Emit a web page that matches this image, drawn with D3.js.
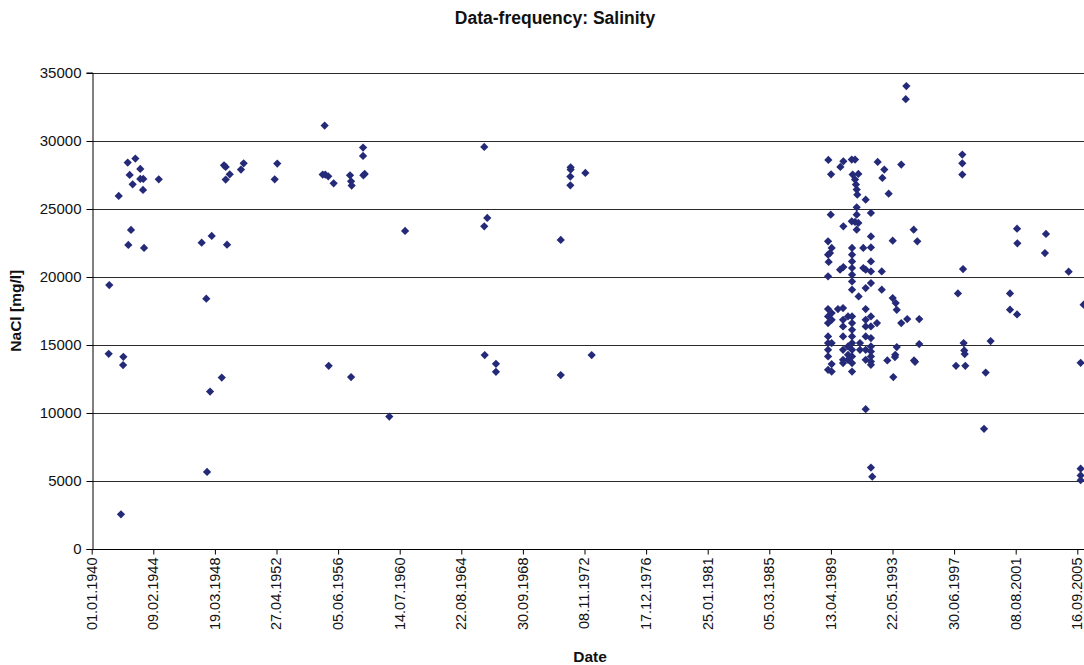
<!DOCTYPE html>
<html>
<head>
<meta charset="utf-8">
<script src="https://cdn.jsdelivr.net/npm/d3@7"></script>
<style>
  html, body { margin: 0; padding: 0; background: #fff; }
  svg { display: block; font-family: "Liberation Sans", Arial, sans-serif; }
</style>
</head>
<body>
<svg id="chart" width="1084" height="665"></svg>
<script>
// Salinity samples, sampling date given as decimal year
const earlyYears = [
  1941.13, 1941.17, 1941.80, 1941.95, 1942.11, 1942.09, 1942.40, 1942.44, 1942.53, 1942.62,
  1942.73, 1942.91, 1943.24, 1943.24, 1943.44, 1943.42, 1943.49, 1944.47,
  1947.33, 1947.64, 1947.69, 1947.89, 1948.00, 1948.67, 1948.82, 1948.93, 1948.93, 1949.02,
  1949.20, 1949.95, 1950.13, 1952.20, 1952.37,
  1955.40, 1955.53, 1955.57, 1955.77, 1955.80, 1956.13, 1957.22, 1957.29, 1957.33, 1957.29,
  1958.09, 1958.09, 1958.11, 1958.20, 1959.84, 1960.89,
  1966.17, 1966.37, 1966.17, 1966.20, 1966.95, 1966.95,
  1971.27, 1971.27, 1971.93, 1971.93, 1971.91, 1971.91, 1972.91, 1973.33
];
const earlyNaCl = [
  14338, 19390, 25934, 2551, 14118, 13507, 28382, 22331, 27478, 23434,
  26787, 28676, 27919, 27184, 27184, 26375, 22110, 27155,
  22500, 18382, 5662, 11566, 22993, 12596, 28184, 28066, 27132, 22353,
  27522, 27868, 28331, 27155, 28309,
  27500, 31103, 27500, 27375, 13456, 26860, 27449, 27007, 26691, 12625,
  29485, 28873, 27449, 27551, 9730, 23360,
  29537, 24316, 23699, 14243, 13603, 13015,
  22699, 12772, 28037, 27868, 27353, 26713, 27625, 14243
];

const lateYears = [
  1994.31, 1994.27,
  1989.11, 1989.29, 1989.91, 1990.11, 1990.67, 1990.89, 1990.73, 1991.11, 1990.89, 1990.95, 1991.00, 1991.04,
  1992.40, 1992.84, 1992.71, 1993.97, 1993.13, 1991.60, 1991.00, 1989.27,
  1991.00, 1990.67, 1990.89, 1991.11, 1991.00, 1991.95, 1990.11,
  1994.80, 1995.04, 1993.40,
  1989.09, 1989.33, 1989.09, 1989.22, 1989.13, 1989.09,
  1990.69, 1990.69, 1990.69, 1990.69, 1990.69, 1990.69, 1990.69,
  1989.89, 1990.11,
  1991.44, 1991.95, 1991.95, 1991.95, 1991.95, 1991.44, 1991.60, 1992.67, 1991.95, 1991.60, 1992.67, 1991.13,
  1993.40, 1993.60, 1993.67, 1994.37, 1995.17, 1993.97, 1995.17,
  1994.82, 1994.89, 1993.57, 1993.55, 1993.04, 1993.44, 1993.67,
  1991.60, 1991.95, 1992.04,
  1989.09, 1989.09, 1989.09, 1989.09, 1989.09, 1989.09, 1989.09, 1989.09,
  1989.33, 1989.33, 1989.33, 1989.33, 1989.33,
  1989.75,
  1990.09, 1990.09, 1990.09, 1990.09, 1990.09, 1990.09, 1990.09,
  1990.42, 1990.42, 1990.42, 1990.42,
  1990.69, 1990.69, 1990.69, 1990.69, 1990.69, 1990.69, 1990.69, 1990.69, 1990.69,
  1991.22, 1991.22,
  1991.60, 1991.60, 1991.60, 1991.60, 1991.60, 1991.60,
  1991.95, 1991.95, 1991.95, 1991.95, 1991.95, 1991.95, 1991.95, 1991.95,
  1992.35,
  1997.62, 1997.75, 1998.04, 1998.04, 1998.04, 1998.09, 1998.13, 1998.17, 1998.20, 1998.24,
  1999.49, 1999.60, 1999.93, 2001.22, 2001.22, 2001.69, 2001.69, 2001.71, 2003.62, 2003.55,
  2005.13, 2005.93, 2005.93, 2005.93, 2005.93, 2006.13
];
const lateNaCl = [
  34000, 33037,
  28581, 27522, 28066, 28478, 28603, 28603, 27500, 27550, 27132, 26765, 26397, 26029,
  28434, 27868, 27257, 28235, 26103, 25662, 25096, 24559,
  24559, 24066, 24020, 23946, 23456, 24681, 23699,
  23456, 22596, 22647,
  22596, 22110, 21618, 21740, 21081, 20025,
  22110, 21618, 21125, 20640, 20147, 19654, 19044,
  20515, 20713,
  22110, 22963, 22154, 21125, 20390, 20640, 20515, 20390, 19537, 19169, 19044, 18551,
  18434, 18066, 17573, 16890, 16890, 16596, 15051,
  13846, 13750, 14265, 14095, 13846, 12625, 14830,
  10272, 5978, 5316,
  17625, 17081, 16596, 15610, 15125, 14632, 14140, 13162,
  17331, 16838, 15125, 13581, 13037,
  17625,
  17698, 16838, 16346, 15610, 14632, 13897, 13654,
  17081, 14875, 14265, 13897,
  17081, 16596, 16103, 15610, 15125, 14632, 14140, 13654, 13037,
  15125, 14632,
  17625, 16838, 16346, 15610, 14632, 13897,
  17081, 16346, 15493, 14875, 14507, 14140, 13772, 13529,
  16596,
  13456, 18772, 28971, 28331, 27500, 20566, 15125, 14581, 14316, 13456,
  8824, 12963, 15272, 18772, 17574, 17228, 23529, 22449, 23140, 21740,
  20368, 13676, 5900, 5400, 5050, 17941
];

const yTicks = [0, 5000, 10000, 15000, 20000, 25000, 30000, 35000];
const xTickLabels = [
  "01.01.1940", "09.02.1944", "19.03.1948", "27.04.1952", "05.06.1956", "14.07.1960",
  "22.08.1964", "30.09.1968", "08.11.1972", "17.12.1976", "25.01.1981", "05.03.1985",
  "13.04.1989", "22.05.1993", "30.06.1997", "08.08.2001", "16.09.2005"
];

const titleText = "Data-frequency: Salinity";
const xTitle = "Date";
const yTitle = "NaCl [mg/l]";

// decimal year -> UTC date
function yearToDate(y) {
  const yr = Math.floor(y);
  const start = Date.UTC(yr, 0, 1), end = Date.UTC(yr + 1, 0, 1);
  return new Date(start + (y - yr) * (end - start));
}
function parseDMY(s) {
  const [d, m, y] = s.split(".").map(Number);
  return new Date(Date.UTC(y, m - 1, d));
}

const points = earlyYears.map((y, i) => ({ date: yearToDate(y), v: earlyNaCl[i] }))
  .concat(lateYears.map((y, i) => ({ date: yearToDate(y), v: lateNaCl[i] })));

const svg = d3.select("#chart");
const W = 1084, H = 665;
const plot = { left: 92, top: 72.5, bottom: 549, right: W + 6 };

const tickDates = xTickLabels.map(parseDMY);
const x = d3.scaleUtc()
  .domain([tickDates[0], tickDates[tickDates.length - 1]])
  .range([91.7, 1077.3]);
const y = d3.scaleLinear().domain([0, 35000]).range([plot.bottom, plot.top]);

// horizontal gridlines
svg.append("g")
  .selectAll("line")
  .data(yTicks.filter(d => d > 0))
  .join("line")
  .attr("x1", plot.left).attr("x2", plot.right)
  .attr("y1", d => Math.round(y(d)) + 0.5).attr("y2", d => Math.round(y(d)) + 0.5)
  .attr("stroke", "#2a2a2a").attr("stroke-width", 1);

// y axis
const yAxis = svg.append("g")
  .attr("transform", `translate(${plot.left + 0.5},0)`)
  .call(d3.axisLeft(y).tickValues(yTicks).tickSize(6).tickPadding(5).tickFormat(d3.format("d")));
yAxis.select(".domain").attr("stroke", "#000");
yAxis.selectAll(".tick line").attr("stroke", "#000");
yAxis.selectAll(".tick")
  .attr("transform", d => `translate(0,${Math.round(y(d)) + 0.5})`);
yAxis.selectAll("text")
  .attr("font-size", 15).attr("fill", "#111")
  .attr("font-family", "'Liberation Sans', Arial, sans-serif");

// x axis
const xAxis = svg.append("g")
  .attr("transform", `translate(0,${Math.round(plot.bottom) + 0.5})`)
  .call(d3.axisBottom(x).tickValues(tickDates).tickSize(5).tickFormat((d, i) => xTickLabels[i]));
xAxis.select(".domain").attr("d", `M${plot.left},0H${plot.right}`).attr("stroke", "#000");
xAxis.selectAll(".tick line").attr("stroke", "#000");
xAxis.selectAll("text")
  .attr("font-size", 14.5).attr("fill", "#111")
  .attr("font-family", "'Liberation Sans', Arial, sans-serif")
  .attr("text-anchor", "end")
  .attr("transform", "rotate(-90)")
  .attr("x", -8).attr("y", 0).attr("dy", "0.3em");

// markers
svg.append("g")
  .selectAll("path")
  .data(points)
  .join("path")
  .attr("d", d3.symbol(d3.symbolSquare, 34))
  .attr("transform", d => `translate(${x(d.date)},${y(d.v)}) rotate(45)`)
  .attr("fill", "#252a78");

// titles
svg.append("text")
  .attr("x", 555).attr("y", 24)
  .attr("text-anchor", "middle")
  .attr("font-size", 17.5).attr("font-weight", "bold").attr("fill", "#111")
  .text(titleText);

svg.append("text")
  .attr("x", 590).attr("y", 662)
  .attr("text-anchor", "middle")
  .attr("font-size", 15.5).attr("font-weight", "bold").attr("fill", "#111")
  .text(xTitle);

svg.append("text")
  .attr("transform", `translate(21,${(plot.top + plot.bottom) / 2}) rotate(-90)`)
  .attr("text-anchor", "middle")
  .attr("font-size", 15.5).attr("font-weight", "bold").attr("fill", "#111")
  .text(yTitle);
</script>
</body>
</html>
